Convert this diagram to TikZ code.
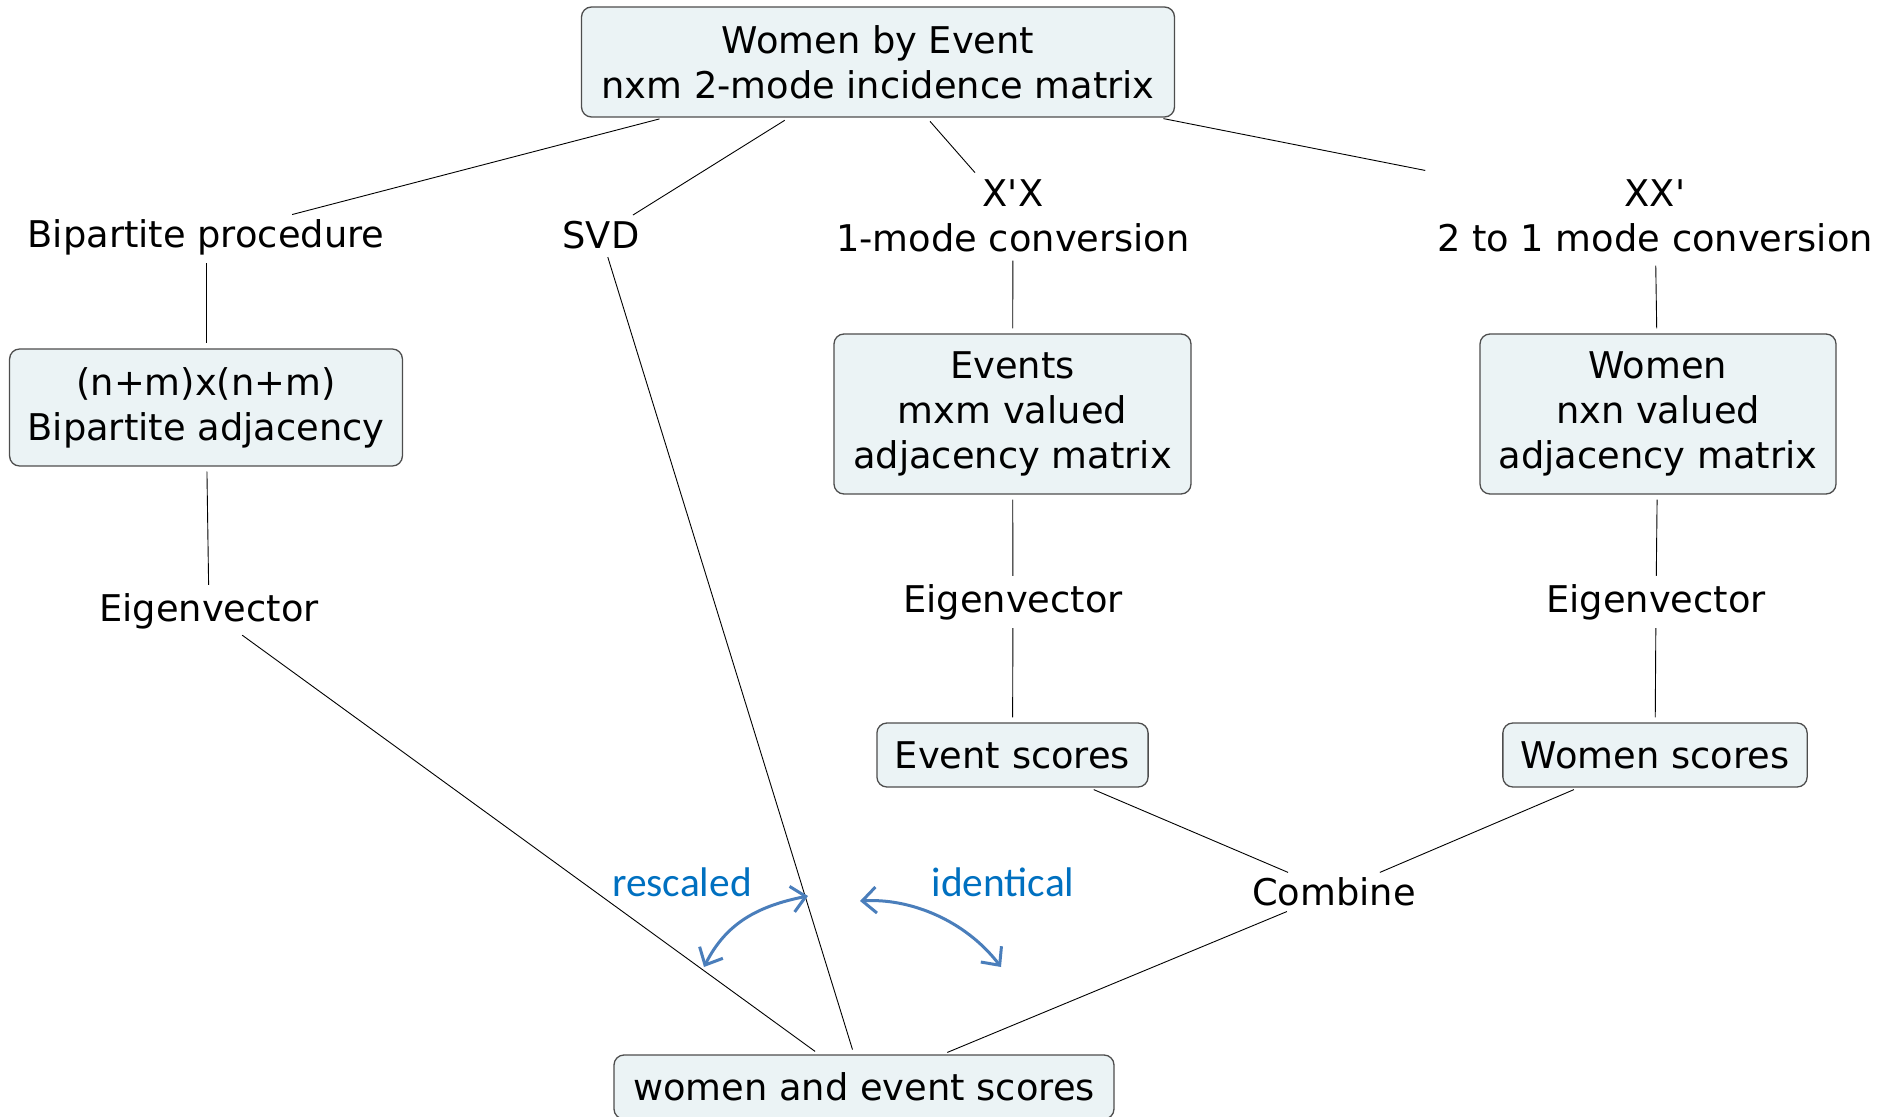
\documentclass[tikz,border=0pt]{standalone}
\usepackage{fontspec}
\setmainfont{DejaVu Sans}
\newfontfamily\notefont{Carlito}
\usepackage{tikz}
\usetikzlibrary{arrows.meta}
\definecolor{boxfill}{HTML}{EBF3F5}
\definecolor{boxline}{HTML}{4D4D4D}
\definecolor{notetext}{HTML}{0070C0}
\definecolor{notearrow}{HTML}{4A7EBB}

\begin{document}
\begin{tikzpicture}[
  x=0.5pt, y=-0.5pt,
  font=\fontsize{18.4}{22.5}\selectfont,
  box/.style={draw=boxline, line width=0.65pt, rounded corners=5pt, fill=boxfill, align=center, inner xsep=9pt, minimum height=32pt},
  lbl/.style={align=center, inner sep=1.5pt},
  link/.style={line width=0.45pt, shorten <=2.5pt, shorten >=2.5pt},
  notelbl/.style={text=notetext, font=\notefont\fontsize{20.7}{24}\selectfont},
  swing/.style={draw=notearrow, line width=1.5pt, {Straight Barb[length=7pt,width=13pt]}-{Straight Barb[length=7pt,width=13pt]}}
]
  \useasboundingbox (0,0) rectangle (1880,1117);

  \node[box, minimum width=296.5pt, minimum height=55pt] (top) at (878,62) {Women by Event\\nxm 2-mode incidence matrix};
  \node[lbl] (bippro) at (206,237) {Bipartite procedure};
  \node[lbl] (svd) at (601,235) {SVD};
  \node[lbl] (xtx) at (1013,216) {X\textquotesingle X\\1-mode conversion};
  \node[lbl, inner sep=4pt] (xxt) at (1655,216) {XX\textquotesingle\\2 to 1 mode conversion};
  \node[box, minimum width=196pt, minimum height=58.5pt] (bipadj) at (206,407.5) {(n+m)x(n+m)\\Bipartite adjacency};
  \node[box, minimum width=178.5pt, minimum height=80pt] (events) at (1012.5,414) {Events\\mxm valued\\adjacency matrix};
  \node[box, minimum width=178pt, minimum height=80pt] (women) at (1658,414) {Women\\nxn valued\\adjacency matrix};
  \node[lbl] (eiga) at (209,611) {Eigenvector};
  \node[lbl] (eigb) at (1013,602) {Eigenvector};
  \node[lbl] (eigc) at (1656,602) {Eigenvector};
  \node[box] (evscores) at (1012.5,755) {Event scores};
  \node[box] (wscores) at (1655,755) {Women scores};
  \node[lbl] (combine) at (1334,892) {Combine};
  \node[box, minimum width=250pt] (allscores) at (864,1087) {women and event scores};
  \node[notelbl] (resc) at (682,882) {rescaled};
  \node[notelbl] (ident) at (1003,882) {identical};

  \draw[link] (top) -- (bippro);
  \draw[link] (top) -- (svd);
  \draw[link] (top) -- (xtx);
  \draw[link] (top) -- (xxt);
  \draw[link] (bippro) -- (bipadj);
  \draw[link] (bipadj) -- (eiga);
  \draw[link] (eiga) -- (allscores);
  \draw[link] (svd) -- (allscores);
  \draw[link] (xtx) -- (events);
  \draw[link] (events) -- (eigb);
  \draw[link] (eigb) -- (evscores);
  \draw[link] (evscores) -- (combine);
  \draw[link] (xxt) -- (women);
  \draw[link] (women) -- (eigc);
  \draw[link] (eigc) -- (wscores);
  \draw[link] (wscores) -- (combine);
  \draw[link] (combine) -- (allscores);

  \coordinate (ra) at (808,896);
  \coordinate (rb) at (704,967);
  \coordinate (ia) at (860,901);
  \coordinate (ib) at (1001,967);
  \draw[swing] (ra) .. controls (758,906) and (726,923) .. (rb);
  \draw[swing] (ia) .. controls (910,898) and (965,920) .. (ib);
\end{tikzpicture}
\end{document}
